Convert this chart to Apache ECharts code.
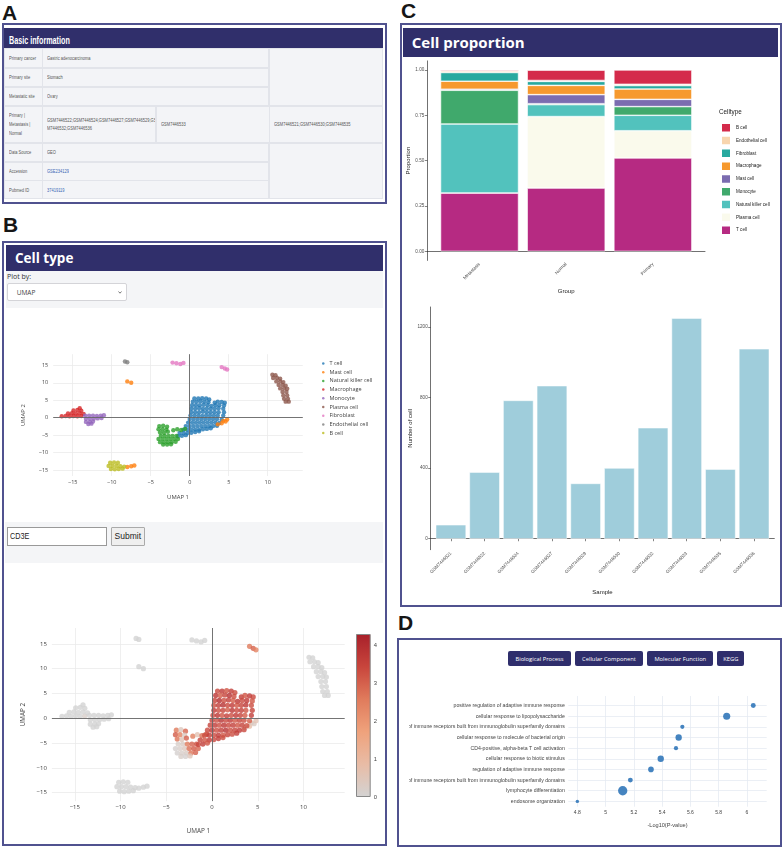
<!DOCTYPE html>
<html>
<head>
<meta charset="utf-8">
<title>Single-cell dataset page</title>
<script src="https://cdn.jsdelivr.net/npm/echarts@6/dist/echarts.min.js"></script>
<style>
body { margin:0; width:784px; height:849px; background:#fff; position:relative; overflow:hidden;
       font-family:"Open Sans", "DejaVu Sans", sans-serif; }
.tag  { position:absolute; font:bold 21px/21px "Liberation Sans", Arial, sans-serif; color:#161616; }
.box  { position:absolute; border:2px solid #50528f; box-sizing:border-box; }
.bar  { position:absolute; background:#302f6b; color:#fff; font-weight:bold; white-space:nowrap; }
.grey { position:absolute; background:#f4f5f7; }
.td   { position:absolute; background:#f3f4f7; border:0.5px solid #e2e4ea; box-sizing:border-box;
        font:5.5px/8.6px "Liberation Sans", Arial, sans-serif; color:#555;
        padding-left:3.5px; display:flex; align-items:center; overflow:hidden; }
.sx   { display:inline-block; white-space:nowrap; transform:scaleX(0.73); transform-origin:left center; }
.td a { color:#3b68b5; text-decoration:none; }
.btn  { position:absolute; background:#2f2e6c; color:#fff; border-radius:2px; font-size:5.8px;
        display:flex; align-items:center; justify-content:center; height:15px; top:651px; }
.chart { position:absolute; }
</style>
</head>
<body>

<!-- A : basic information -->
<div class="tag" style="left:2px;top:2px">A</div>
<div class="box" style="left:2px;top:23px;width:385px;height:181px"></div>
<div class="bar" style="left:4px;top:28px;width:379px;height:20px;line-height:20px">
  <span style="display:inline-block;margin-left:5px;font:bold 10px 'Liberation Sans',Arial,sans-serif;transform:scaleX(0.72);transform-origin:left">Basic information</span>
</div>
<div class="td" style="left:4px;top:48px;width:38.5px;height:20px"><span class="sx">Primary cancer</span></div>
<div class="td" style="left:42.3px;top:48px;width:227px;height:20px"><span class="sx">Gastric adenocarcinoma</span></div>
<div class="td" style="left:269.3px;top:48px;width:113.7px;height:58px"></div>
<div class="td" style="left:4px;top:67.7px;width:38.5px;height:19.3px"><span class="sx">Primary site</span></div>
<div class="td" style="left:42.3px;top:67.7px;width:227px;height:19.3px"><span class="sx">Stomach</span></div>
<div class="td" style="left:4px;top:86.7px;width:38.5px;height:19.3px"><span class="sx">Metastatic site</span></div>
<div class="td" style="left:42.3px;top:86.7px;width:227px;height:19.3px"><span class="sx">Ovary</span></div>
<div class="td" style="left:4px;top:105.7px;width:38.5px;height:37.3px"><span class="sx">Primary |<br>Metastasis |<br>Normal</span></div>
<div class="td" style="left:42.3px;top:105.7px;width:114px;height:37.3px"><span class="sx">GSM7446522;GSM7446524;GSM7446527;GSM7446529;GS<br>M7446532;GSM7446536</span></div>
<div class="td" style="left:156px;top:105.7px;width:113.5px;height:37.3px"><span class="sx">GSM7446533</span></div>
<div class="td" style="left:269.3px;top:105.7px;width:113.7px;height:37.3px"><span class="sx">GSM7446521;GSM7446530;GSM7446535</span></div>
<div class="td" style="left:4px;top:142.7px;width:38.5px;height:19.3px"><span class="sx">Data Source</span></div>
<div class="td" style="left:42.3px;top:142.7px;width:227px;height:19.3px"><span class="sx">GEO</span></div>
<div class="td" style="left:269.3px;top:142.7px;width:113.7px;height:56.7px"></div>
<div class="td" style="left:4px;top:161.7px;width:38.5px;height:18.9px"><span class="sx">Accession</span></div>
<div class="td" style="left:42.3px;top:161.7px;width:227px;height:18.9px"><span class="sx"><a href="#">GSE234129</a></span></div>
<div class="td" style="left:4px;top:180.3px;width:38.5px;height:19px"><span class="sx">Pubmed ID</span></div>
<div class="td" style="left:42.3px;top:180.3px;width:227px;height:19px"><span class="sx"><a href="#">37419119</a></span></div>

<!-- B : cell type -->
<div class="tag" style="left:3px;top:214px">B</div>
<div class="box" style="left:2px;top:241px;width:385px;height:605px"></div>
<div class="bar" style="left:6px;top:245px;width:377px;height:26px;line-height:26px;font-size:13.5px;padding-left:9px;box-sizing:border-box">Cell type</div>
<div class="grey" style="left:6px;top:271px;width:377px;height:37px"></div>
<div style="position:absolute;left:7px;top:272px;font-size:7px;color:#333">Plot by:</div>
<div style="position:absolute;left:6.7px;top:282.7px;width:120px;height:18px;background:#fff;border:0.7px solid #d4d4d8;border-radius:2px;box-sizing:border-box;font-size:6.5px;color:#444;line-height:17px;padding-left:9px">UMAP
  <svg style="position:absolute;right:4px;top:7px" width="4" height="3"><polyline points="0.5,0.5 2,2.2 3.5,0.5" fill="none" stroke="#555" stroke-width="0.8"/></svg>
</div>
<div id="umapTop" class="chart" style="left:6px;top:309px;width:376px;height:211px"></div>
<div class="grey" style="left:5px;top:521.7px;width:378px;height:41.6px"></div>
<div style="position:absolute;left:6.7px;top:526.7px;width:100.6px;height:19px;background:#fff;border:1px solid #999;box-sizing:border-box;font:8.5px/17px 'Liberation Sans',Arial,sans-serif;color:#222;padding-left:2px"><span style="display:inline-block;transform:scaleX(0.85);transform-origin:left">CD3E</span></div>
<div style="position:absolute;left:110.7px;top:526.7px;width:34.3px;height:19px;background:#efefef;border:1px solid #aaa;border-radius:1px;box-sizing:border-box;font:8.5px/17px 'Liberation Sans',Arial,sans-serif;color:#222;text-align:center">Submit</div>
<div id="umapBottom" class="chart" style="left:6px;top:563px;width:376px;height:281px"></div>

<!-- C : cell proportion -->
<div class="tag" style="left:401px;top:0px">C</div>
<div class="box" style="left:400px;top:23px;width:382px;height:584px"></div>
<div class="bar" style="left:403.3px;top:28.3px;width:375px;height:28.4px;line-height:28px;font-size:15px;padding-left:8.5px;box-sizing:border-box">Cell proportion</div>
<div id="propChart" class="chart" style="left:403px;top:57px;width:376px;height:243px"></div>
<div id="countChart" class="chart" style="left:403px;top:300px;width:376px;height:305px"></div>

<!-- D : enrichment -->
<div class="tag" style="left:398px;top:612px">D</div>
<div class="box" style="left:397px;top:638px;width:385px;height:209px"></div>
<div class="btn" style="left:508.3px;width:62.4px">Biological Process</div>
<div class="btn" style="left:574.7px;width:68.6px">Cellular Component</div>
<div class="btn" style="left:647.3px;width:66px">Molecular Function</div>
<div class="btn" style="left:717.3px;width:27px">KEGG</div>
<div id="goChart" class="chart" style="left:409px;top:668px;width:370px;height:176px"></div>

<script>
// ---- panel C data ----
var groups = ['Metastasis', 'Normal', 'Primary'];
var cellTypes = ['B cell', 'Endothelial cell', 'Fibroblast', 'Macrophage', 'Mast cell',
                 'Monocyte', 'Natural killer cell', 'Plasma cell', 'T cell'];
var propBcell   = [0.006, 0.057, 0.079];
var propEndo    = [0.009, 0.005, 0.007];
var propFibro   = [0.048, 0.022, 0.019];
var propMacro   = [0.044, 0.051, 0.057];
var propMast    = [0.006, 0.050, 0.040];
var propMono    = [0.186, 0.005, 0.048];
var propNK      = [0.380, 0.066, 0.085];
var propPlasma  = [0.000, 0.394, 0.150];
var propTcell   = [0.322, 0.349, 0.515];
var propTicks = [0, 0.25, 0.5, 0.75, 1];

var samples = ['GSM7446521', 'GSM7446522', 'GSM7446524', 'GSM7446527', 'GSM7446529',
               'GSM7446530', 'GSM7446532', 'GSM7446533', 'GSM7446535', 'GSM7446536'];
var cellCounts = [79, 377, 783, 866, 313, 400, 628, 1249, 394, 1075];
var countTicks = [0, 400, 800, 1200];

// ---- panel B data: UMAP coordinates [umap1, umap2, CD3E expression] ----
var umapTcell = [
  [0.6,5.5,3.4],[1.1,5.5,3.7],[1.6,5.6,3.2],[2.1,5.5,3.6],[2.5,5.2,3.3],
  [0.4,4.6,3.8],[0.9,4.6,3.1],[1.4,4.7,3.5],[1.9,4.6,3.9],[2.4,4.4,3.3],[3.2,4.3,3.6],[3.6,4.6,3.2],[4.1,4.5,3.7],[4.5,4.3,3.4],
  [0.3,3.6,3.5],[0.8,3.6,4.0],[1.3,3.6,3.3],[1.8,3.7,3.6],[2.3,3.6,3.1],[2.8,3.4,3.8],[3.3,3.6,3.4],[3.8,3.6,3.7],[4.4,3.5,3.2],
  [0.2,2.6,3.3],[0.7,2.6,3.6],[1.2,2.7,3.9],[1.7,2.6,3.4],[2.2,2.6,3.7],[2.7,2.6,3.2],[3.2,2.6,3.5],[3.7,2.7,3.8],[4.3,2.6,3.3],
  [0.2,1.6,3.7],[0.7,1.6,3.3],[1.2,1.6,3.5],[1.7,1.7,3.1],[2.2,1.6,3.8],[2.7,1.6,3.4],[3.2,1.6,3.6],[3.7,1.6,3.2],[4.4,1.6,3.5],
  [0.1,0.6,3.4],[0.6,0.6,3.8],[1.1,0.6,3.2],[1.6,0.5,3.6],[2.1,0.6,3.3],[2.6,0.6,3.7],[3.1,0.6,3.5],[3.6,0.6,3.1],[4.3,0.6,3.6],
  [0.0,-0.4,3.6],[0.5,-0.4,3.3],[1.0,-0.4,3.9],[1.5,-0.4,3.4],[2.0,-0.4,3.7],[2.5,-0.4,3.2],[3.0,-0.4,3.5],[3.5,-0.4,3.3],[4.1,-0.5,3.0],
  [-0.2,-1.4,3.5],[0.3,-1.4,3.7],[0.8,-1.4,3.3],[1.3,-1.4,3.8],[1.8,-1.4,3.4],[2.3,-1.4,3.6],[2.8,-1.4,3.2],[3.3,-1.4,3.5],[3.8,-1.5,3.3],
  [-0.5,-2.4,3.4],[0.0,-2.4,3.8],[0.5,-2.4,3.3],[1.0,-2.4,3.6],[1.5,-2.4,3.9],[2.0,-2.4,3.3],[2.5,-2.4,3.5],[3.0,-2.4,3.7],[3.5,-2.3,3.4],
  [-0.8,-3.4,3.3],[-0.3,-3.4,3.6],[0.2,-3.4,3.4],[0.7,-3.4,3.7],[1.2,-3.4,3.2],[1.7,-3.3,3.5],[2.2,-3.2,3.3],[2.7,-3.0,3.6],
  [-1.3,-4.4,3.5],[-0.8,-4.4,3.2],[-0.3,-4.4,3.7],[0.2,-4.3,3.4],[0.7,-4.1,3.6],[1.2,-3.9,3.3],
  [-1.5,-5.3,3.4],[-1.0,-5.2,3.6],[-0.5,-5.0,3.2]
];
var umapMast = [
  [-8.0,10.4,0],[-7.5,10.0,0],
  [-8.0,-14.1,0],[-7.5,-13.9,0],[-7.1,-13.7,0],
  [3.6,-1.9,0.4],[4.1,-1.6,0.8],[4.3,-0.9,0.5],[4.6,-1.1,0.3],[4.8,-0.5,0.6]
];
var umapNK = [
  [-3.9,-2.4,2.6],[-3.4,-2.3,0.4],[-2.9,-2.6,2.9],
  [-4.0,-3.3,3.1],[-3.5,-3.3,2.4],[-3.0,-3.4,0.3],
  [-3.8,-4.2,2.7],[-3.3,-4.3,0.5],[-2.8,-4.0,3.0],
  [-2.1,-3.6,2.5],[-1.6,-3.3,0.6],[-1.1,-3.5,2.8],[-0.6,-3.2,3.1],
  [-3.7,-5.2,0.2],[-3.2,-5.2,0.3],[-2.7,-5.2,2.6],[-2.2,-5.2,3.0],[-1.7,-5.2,3.2],
  [-4.0,-6.1,0.1],[-3.5,-6.1,0.2],[-3.0,-6.1,0.4],[-2.5,-6.1,2.8],[-2.0,-6.1,3.1],[-1.5,-6.1,2.9],
  [-3.8,-7.0,0.1],[-3.3,-7.0,0.2],[-2.8,-7.0,0.3],[-2.3,-7.0,2.7],[-1.8,-6.9,3.0],
  [-3.4,-7.7,0.2],[-2.9,-7.7,0.1],[-2.4,-7.6,0.5]
];
var umapMacro = [
  [-16.4,0.4,0],[-15.9,0.5,0],[-15.4,0.4,0],[-14.9,0.5,0],[-14.4,0.4,0],[-13.9,0.5,0.2],
  [-15.6,1.2,0],[-15.1,1.3,0],[-14.6,1.2,0],[-14.1,1.3,0],[-13.6,1.1,0],
  [-14.9,2.1,0],[-14.4,2.2,0],[-13.9,2.0,0],[-14.1,2.7,0]
];
var umapMono = [
  [-13.4,0.6,0],[-12.9,0.6,0],[-12.4,0.6,0],[-11.9,0.5,0],[-11.4,0.6,0],[-11.0,0.7,0],
  [-13.3,-0.3,0],[-12.8,-0.3,0],[-12.3,-0.3,0],[-11.8,-0.2,0],[-11.3,-0.1,0],
  [-13.3,-1.2,0],[-12.8,-1.2,0],[-12.4,-1.1,0],
  [-13.0,-1.8,0],[-12.6,-1.7,0]
];
var umapPlasma = [
  [10.6,12.3,0],[11.0,12.2,0],
  [10.7,11.4,0],[11.2,11.4,0],[11.6,11.2,0],
  [11.1,10.4,0],[11.6,10.4,0],[12.0,10.2,0],
  [11.4,9.4,0],[11.9,9.4,0],[12.3,9.2,0],
  [11.6,8.4,0],[12.1,8.4,0],[12.5,8.3,0],
  [11.9,7.4,0],[12.4,7.4,0],
  [12.0,6.4,0],[12.5,6.4,0],
  [12.1,5.4,0],[12.6,5.4,0],
  [12.3,4.6,0],[12.7,4.6,0]
];
var umapFibro = [
  [-2.2,15.8,0],[-1.7,15.6,0],[-1.2,15.4,0],[-0.8,15.7,0],
  [4.1,14.5,2.6],[4.5,14.1,3.0],[4.8,13.8,2.4]
];
var umapEndo = [[-8.3,16.1,0],[-8.0,15.9,0]];
var umapBcell = [
  [-10.2,-12.9,0],[-9.7,-12.8,0],[-9.2,-12.9,0],
  [-10.4,-13.8,0],[-9.9,-13.8,0],[-9.4,-13.8,0],[-8.9,-13.9,0],[-8.4,-14.0,0],
  [-10.1,-14.7,0],[-9.6,-14.8,0],[-9.1,-14.7,0],[-8.6,-14.6,0]
];
var umapXTicks = [-15, -10, -5, 0, 5, 10];
var umapYTicks = [-15, -10, -5, 0, 5, 10, 15];
var exprTicks = [0, 1, 2, 3, 4];
var exprMax = 4.31;

// ---- panel D data ----
var goTerms = [
  'positive regulation of adaptive immune response',
  'cellular response to lipopolysaccharide',
  'adaptive immune response based on somatic recombination of immune receptors built from immunoglobulin superfamily domains',
  'cellular response to molecule of bacterial origin',
  'CD4-positive, alpha-beta T cell activation',
  'cellular response to biotic stimulus',
  'regulation of adaptive immune response',
  'regulation of adaptive immune response based on somatic recombination of immune receptors built from immunoglobulin superfamily domains',
  'lymphocyte differentiation',
  'endosome organization'
];
var goLogP  = [6.045, 5.857, 5.543, 5.517, 5.498, 5.39, 5.321, 5.175, 5.121, 4.80];
var goCount = [4, 7, 3, 6, 3, 6, 5, 4, 10, 2];
var goTicks = [4.8, 5, 5.2, 5.4, 5.6, 5.8, 6];

// ---- styling ----
var propByType = [propBcell, propEndo, propFibro, propMacro, propMast, propMono, propNK, propPlasma, propTcell];
var typeColors = ['#d42b4b', '#f8d5ae', '#28a99f', '#f6992e', '#7b6cb0', '#40a96c', '#52c2bd', '#fafaec', '#b62a82'];
var umapNames  = ['T cell', 'Mast cell', 'Natural killer cell', 'Macrophage', 'Monocyte',
                  'Plasma cell', 'Fibroblast', 'Endothelial cell', 'B cell'];
var umapPoints = [umapTcell, umapMast, umapNK, umapMacro, umapMono, umapPlasma, umapFibro, umapEndo, umapBcell];
var plotlyColors = ['#1f77b4', '#ff7f0e', '#2ca02c', '#d62728', '#9467bd', '#8c564b', '#e377c2', '#7f7f7f', '#bcbd22'];
var exprColors = ['#d3d3d3', '#e8bca6', '#efa27c', '#e07b5c', '#c8453c', '#a8202a'];

function minus(v) { return v < 0 ? '\u2212' + Math.abs(v) : String(v); }

function umapAxes(fs, xGap, yGap) {
  var lab = { fontSize: fs, color: '#444', fontFamily: 'Open Sans', formatter: minus };
  var grid = { lineStyle: { color: '#ebebeb', width: 0.8 } };
  return {
    x: { type: 'value', min: -17.5, max: 14.5, name: 'UMAP 1', nameLocation: 'middle', nameGap: xGap,
         nameMoveOverlap: false,
         nameTextStyle: { fontSize: fs + 0.4, color: '#444', fontFamily: 'Open Sans' },
         axisLine: { show: false }, axisTick: { show: false, customValues: umapXTicks },
         axisLabel: Object.assign({ customValues: umapXTicks, margin: 3 }, lab), splitLine: grid },
    y: { type: 'value', min: -16.7, max: 18.2, name: 'UMAP 2', nameLocation: 'middle', nameGap: yGap,
         nameMoveOverlap: false,
         nameTextStyle: { fontSize: fs + 0.4, color: '#444', fontFamily: 'Open Sans' },
         axisLine: { show: false }, axisTick: { show: false, customValues: umapYTicks },
         axisLabel: Object.assign({ customValues: umapYTicks, margin: 5 }, lab), splitLine: grid }
  };
}
var zeroLines = { silent: true, symbol: 'none', label: { show: false },
                  lineStyle: { color: '#666', width: 0.9, type: 'solid' },
                  data: [{ xAxis: 0 }, { yAxis: 0 }] };

// ---- UMAP by cell type ----
var topAx = umapAxes(5.5, 18, 27);
var umapTop = echarts.init(document.getElementById('umapTop'));
umapTop.setOption({
  animation: false,
  grid: { left: 47.2, top: 45.2, width: 249.6, height: 121.8, outerBoundsMode: 'none' },
  xAxis: topAx.x, yAxis: topAx.y,
  legend: { orient: 'vertical', left: 311, top: 46, icon: 'circle', itemWidth: 2.5, itemHeight: 2.5, itemGap: 1.7,
            textStyle: { fontSize: 5.5, color: '#444', fontFamily: 'Open Sans', lineHeight: 7 }, data: umapNames },
  series: umapNames.map(function (n, i) {
    return { type: 'scatter', name: n, data: umapPoints[i], symbolSize: 4.4,
             itemStyle: { color: plotlyColors[i] }, markLine: i === 0 ? zeroLines : undefined };
  })
});

// ---- UMAP coloured by CD3E ----
var botAx = umapAxes(6, 27, 26);
var allPoints = [];
[1, 2, 3, 4, 5, 6, 7, 8, 0].forEach(function (k) { allPoints = allPoints.concat(umapPoints[k]); });
var umapBottom = echarts.init(document.getElementById('umapBottom'));
umapBottom.setOption({
  animation: false,
  grid: [{ left: 45.9, top: 65, width: 292.8, height: 173.1, outerBoundsMode: 'none' },
         { left: 350, top: 71, width: 14.7, height: 163, outerBoundsMode: 'none' }],
  xAxis: [botAx.x, { gridIndex: 1, type: 'category', data: [''], show: false }],
  yAxis: [botAx.y, { gridIndex: 1, type: 'value', min: 0, max: exprMax, position: 'right',
                     axisLine: { show: false }, splitLine: { show: false },
                     axisTick: { show: false, customValues: exprTicks },
                     axisLabel: { customValues: exprTicks, fontSize: 5.8, color: '#444', margin: 3 } }],
  visualMap: { show: false, type: 'continuous', seriesIndex: 0, dimension: 2, min: 0, max: exprMax,
               inRange: { color: exprColors } },
  series: [
    { type: 'scatter', data: allPoints, symbolSize: 5.2, markLine: zeroLines },
    { type: 'bar', xAxisIndex: 1, yAxisIndex: 1, data: [exprMax], barWidth: '100%', silent: true,
      itemStyle: { borderColor: '#888', borderWidth: 1,
        color: new echarts.graphic.LinearGradient(0, 1, 0, 0, exprColors.map(function (c, i) {
          return { offset: i / (exprColors.length - 1), color: c };
        })) } }
  ]
});

// ---- stacked proportion ----
var inkLine = { lineStyle: { color: '#333', width: 0.7 } };
var tickLine = { color: '#333', width: 0.6 };
var titleText = { fontSize: 6, color: '#222' };
var propChart = echarts.init(document.getElementById('propChart'));
var stackSeries = [];
for (var t = cellTypes.length - 1; t >= 0; t--) {
  stackSeries.push({
    type: 'bar', name: cellTypes[t], stack: 'all', barWidth: 78, xAxisIndex: 0, yAxisIndex: 0,
    data: propByType[t],
    itemStyle: { color: typeColors[t], borderColor: '#fff', borderWidth: 0.6 }
  });
}
propChart.setOption({
  animation: false,
  title: { text: 'Celltype', left: 311, top: 47, textStyle: { fontSize: 6.3, fontWeight: 'normal', color: '#222' } },
  legend: { orient: 'vertical', left: 312, top: 60, icon: 'rect', itemWidth: 10, itemHeight: 9.5, itemGap: 1.3,
            textStyle: { fontSize: 4.6, color: '#222' }, data: cellTypes },
  // bars sit in an inner grid; the outer grid carries the expanded ggplot-style axis lines
  grid: [{ left: 33.2, top: 3.9, width: 260, height: 199.5, outerBoundsMode: 'none' },
         { left: 24.3, top: 3.9, width: 277.7, height: 199.5, outerBoundsMode: 'none' }],
  xAxis: [
    { type: 'category', gridIndex: 0, data: groups, axisLine: { show: false }, splitLine: { show: false },
      axisTick: { alignWithLabel: true, length: 2.5, lineStyle: tickLine },
      axisLabel: { rotate: 45, fontSize: 4.6, color: '#4d4d4d', margin: 3 } },
    { type: 'value', gridIndex: 1, min: 0, max: 1, axisLine: inkLine, axisTick: { show: false },
      axisLabel: { show: false }, splitLine: { show: false },
      name: 'Group', nameLocation: 'middle', nameGap: 28, nameMoveOverlap: false, nameTextStyle: titleText }
  ],
  yAxis: [
    { type: 'value', gridIndex: 0, min: -0.05, max: 1.05, show: false },
    { type: 'value', gridIndex: 1, min: -0.05, max: 1.05, axisLine: inkLine, splitLine: { show: false },
      axisTick: { customValues: propTicks, length: 2.5, lineStyle: tickLine },
      axisLabel: { customValues: propTicks, fontSize: 4.6, color: '#4d4d4d', margin: 3,
                   formatter: function (v) { return v.toFixed(2); } },
      name: 'Proportion', nameLocation: 'middle', nameGap: 16, nameMoveOverlap: false, nameTextStyle: titleText }
  ],
  series: stackSeries
});

// ---- cells per sample ----
var sampleIdx = samples.map(function (s, i) { return i + 1; });
var countChart = echarts.init(document.getElementById('countChart'));
countChart.setOption({
  animation: false,
  grid: { left: 27.7, top: 7, width: 343.6, height: 242.7, outerBoundsMode: 'none' },
  xAxis: { type: 'value', min: 0.4, max: 10.6, name: 'Sample', nameLocation: 'middle', nameGap: 40,
    nameMoveOverlap: false, nameTextStyle: titleText, axisLine: inkLine, splitLine: { show: false },
    axisTick: { customValues: sampleIdx, length: 2.5, lineStyle: tickLine },
    axisLabel: { customValues: sampleIdx, rotate: 45, fontSize: 4.6, color: '#4d4d4d', margin: 3,
                 formatter: function (v) { return samples[v - 1]; } } },
  yAxis: { type: 'value', min: -62, max: 1312, name: 'Number of cell', nameLocation: 'middle', nameGap: 17,
    nameMoveOverlap: false, nameTextStyle: titleText, axisLine: inkLine, splitLine: { show: false },
    axisTick: { customValues: countTicks, length: 2.5, lineStyle: tickLine },
    axisLabel: { customValues: countTicks, fontSize: 4.6, color: '#4d4d4d', margin: 3,
                 formatter: function (v) { return String(v); } } },
  series: [{ type: 'bar', barWidth: 30.3, data: cellCounts.map(function (v, i) { return [i + 1, v]; }),
             itemStyle: { color: '#9fcddb', borderColor: '#fff', borderWidth: 0.5 } }]
});

// ---- GO enrichment dot plot ----
var termIdx = goTerms.map(function (s, i) { return i; });
var goChart = echarts.init(document.getElementById('goChart'));
var goGrid = { lineStyle: { color: '#e6ebf2', width: 0.8 } };
goChart.setOption({
  animation: false,
  grid: { left: 159.3, top: 28, width: 198.4, height: 110.7, outerBoundsMode: 'none' },
  xAxis: { type: 'value', min: 4.736, max: 6.14, name: '-Log10(P-value)', nameLocation: 'middle', nameGap: 16,
           nameMoveOverlap: false, nameTextStyle: { fontSize: 5.6, color: '#444' },
           axisLine: { show: false }, axisTick: { show: false, customValues: goTicks },
           axisLabel: { customValues: goTicks, fontSize: 5, color: '#444', margin: 3.5 }, splitLine: goGrid },
  yAxis: { type: 'value', inverse: true, min: -0.9, max: 9.5,
           axisLine: { show: false }, axisTick: { show: false, customValues: termIdx },
           axisLabel: { customValues: termIdx, fontSize: 5.2, color: '#444', margin: 3.5,
                        formatter: function (v) { return goTerms[v]; } },
           splitLine: goGrid },
  series: [{ type: 'scatter', data: goLogP.map(function (v, i) { return [v, i, goCount[i]]; }),
             symbolSize: function (d) { return 2 + 0.73 * d[2]; },
             itemStyle: { color: '#3b7dbd', opacity: 0.95 } }]
});
</script>
</body>
</html>
